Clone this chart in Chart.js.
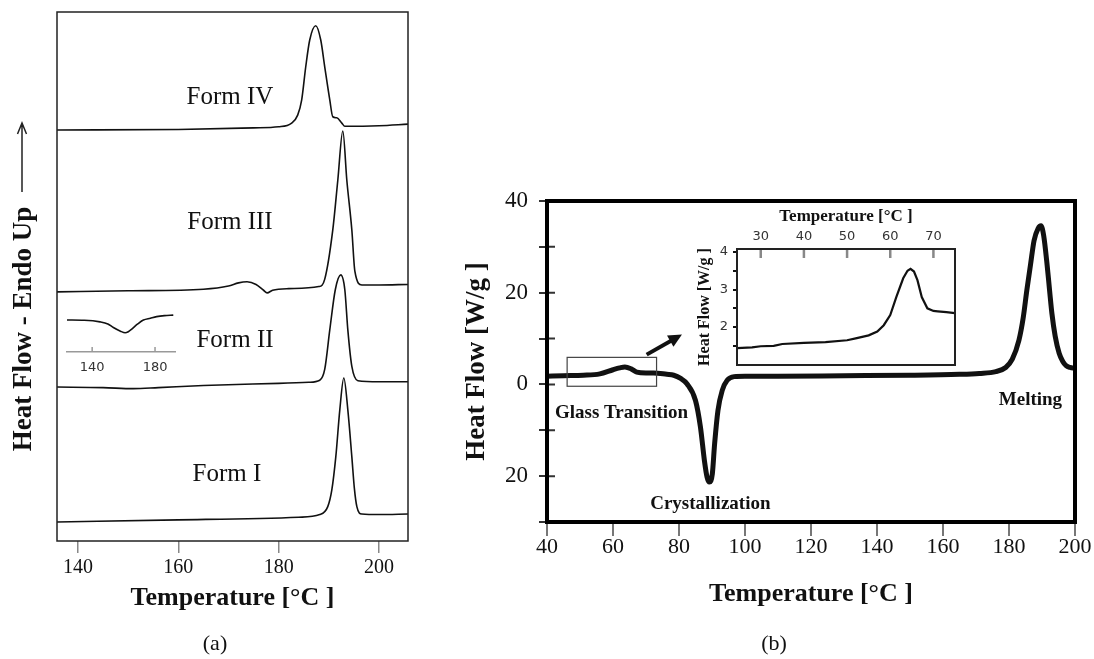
<!DOCTYPE html>
<html>
<head>
<meta charset="utf-8">
<script src="https://cdn.jsdelivr.net/npm/chart.js@4.4.1/dist/chart.umd.min.js"></script>
<style>
  html, body { margin: 0; padding: 0; background: #fff; }
  #wrap { position: relative; width: 1094px; height: 659px; overflow: hidden; }
  #wrap canvas { position: absolute; left: 0; top: 0; }
  .cap { position: absolute; font: 22px "Liberation Serif", serif; color: #111; transform: translate(-50%, -50%); }
</style>
</head>
<body>
<div id="wrap">
  <canvas id="formsChart" width="1094" height="659"></canvas>
  <canvas id="formsInset" width="1094" height="659"></canvas>
  <canvas id="dscChart" width="1094" height="659"></canvas>
  <canvas id="dscInset" width="1094" height="659"></canvas>
  <div class="cap" style="left:215px; top:643px">(a)</div>
  <div class="cap" style="left:774px; top:643px">(b)</div>
</div>
<script>
// ---- panel (a): stacked DSC traces of the four forms (arbitrary offset units)
const tempTicksA = [140, 160, 180, 200];

const formITemp = [135.8, 160, 184, 188.2, 189.8, 190.6, 191.4, 192.2, 193.0, 193.8, 194.6, 195.1, 195.6, 196.6, 200, 205.8];
const formIFlow = [3.6, 4.0, 4.5, 5.0, 6.5, 9.6, 15.9, 24.8, 30.8, 24.8, 15.9, 10.0, 6.5, 5.1, 5.0, 5.1];

const formIITemp = [135.8, 145, 151, 156, 165, 180, 186, 188.2, 189.2, 190.2, 191.3, 192.4, 193.2, 193.8, 194.6, 195.8, 200, 205.8];
const formIIFlow = [29.1, 29.0, 28.8, 29.0, 29.4, 29.8, 30.0, 30.4, 32.5, 39.9, 47.5, 50.3, 47.5, 39.9, 33.0, 30.3, 30.1, 30.1];

const formIIITemp = [135.8, 150, 165, 170, 172, 173.7, 175.5, 177, 177.7, 178.8, 182, 188, 189.2, 190.8, 191.8, 192.8, 193.6, 194.6, 195.2, 196.6, 200, 205.8];
const formIIIFlow = [47.1, 47.3, 47.6, 48.2, 48.8, 49.0, 48.5, 47.4, 46.9, 47.4, 47.7, 48.1, 49.5, 58.8, 68.2, 77.5, 68.2, 58.8, 51.0, 48.4, 48.4, 48.5];

const formIVTemp = [135.8, 160, 175, 180, 182.6, 183.8, 184.6, 185.4, 186.2, 187.4, 188.4, 189.2, 190.2, 190.8, 191.6, 192.6, 193.2, 200, 205.8];
const formIVFlow = [77.7, 77.8, 78.1, 78.3, 79.0, 80.5, 83.4, 89.6, 94.7, 97.4, 94.7, 89.6, 83.4, 80.2, 80.0, 79.0, 78.4, 78.5, 78.8];

const formNames = ['Form I', 'Form II', 'Form III', 'Form IV'];
const formLabelT = [169.7, 171.3, 170.3, 170.3];
const formLabelV = [12.5, 38.0, 60.3, 83.9];

// small inset under Form III (Form II dip)
const insetATicks = [140, 180];
const insetATemp = [124, 135, 145, 150, 153.5, 158, 161, 163, 165.2, 169, 172.6, 177, 181, 186, 191.6];
const insetAFlow = [6.15, 6.1, 5.8, 5.4, 4.7, 4.0, 3.7, 3.9, 4.4, 5.4, 6.15, 6.5, 6.8, 7.0, 7.1];

// ---- panel (b): DSC heating scan
const tempTicksB = [40, 60, 80, 100, 120, 140, 160, 180, 200];
const flowTicksB = [-30, -20, -10, 0, 10, 20, 30, 40];
const dscTemp = [40, 45, 51, 56, 60, 62, 63.6, 65.5, 67.2, 70, 72.3, 76.3, 78.4, 80.5, 82.4, 85.0, 86.5, 87.7, 88.5, 89.2, 90.1, 90.8, 91.8, 93.1, 94.6, 96.7, 100, 110, 130, 150, 165, 171, 176, 179, 181, 183, 184.3, 185.4, 186.5, 187.6, 188.8, 189.7, 190.5, 191.5, 192.3, 193, 194, 195.2, 196.3, 197.3, 198.5, 200];
const dscFlow = [1.8, 1.9, 2.0, 2.3, 3.2, 3.6, 3.8, 3.4, 2.7, 2.5, 2.5, 2.2, 2.0, 1.3, 0.15, -3.5, -9.3, -16.6, -20.2, -21.3, -19.5, -12.9, -5.7, -1.3, 0.9, 1.7, 1.8, 1.8, 1.9, 2.0, 2.2, 2.4, 2.8, 3.7, 5.5, 9.6, 14.5, 20.5, 26, 31.4, 34.0, 34.6, 32.5, 26.4, 20.5, 15.5, 10.5, 6.8, 5.0, 4.1, 3.7, 3.5];

const eventNames = ['Glass Transition', 'Crystallization', 'Melting'];
const eventT = [62.6, 89.5, 186.5];
const eventV = [-6.3, -26.1, -3.5];
const glassBox = [46.1, 73.2, -0.4, 5.9];     // tmin, tmax, vmin, vmax
const zoomArrow = [70.2, 6.5, 80.9, 10.9];    // from t,v to t,v

// inset of (b): glass transition zoom
const insetBTempTicks = [30, 40, 50, 60, 70];
const insetBFlowTicks = [1.5, 2, 2.5, 3, 3.5, 4];
const insetBTemp = [24.5, 28, 30, 33, 35, 40, 45, 50, 52, 55, 57, 58.5, 60, 61.4, 63, 64, 64.7, 65.5, 66.3, 67.3, 68.6, 70, 71, 73, 75];
const insetBFlow = [1.44, 1.46, 1.49, 1.50, 1.55, 1.58, 1.60, 1.65, 1.70, 1.78, 1.88, 2.05, 2.32, 2.8, 3.3, 3.5, 3.55, 3.48, 3.25, 2.8, 2.5, 2.43, 2.42, 2.40, 2.37];

const SERIF = '"Liberation Serif", "Times New Roman", serif';
const SANS = '"DejaVu Sans", sans-serif';

Chart.defaults.animation = false;
Chart.defaults.events = [];
Chart.defaults.plugins.legend.display = false;
Chart.defaults.plugins.tooltip.enabled = false;

function curve(temps, flows, width) {
  return {
    data: temps.map((t, i) => ({ x: t, y: flows[i] })),
    borderColor: '#111',
    borderWidth: width,
    pointRadius: 0,
    cubicInterpolationMode: 'monotone',
    fill: false
  };
}
function fixTicks(list) {
  return scale => { scale.ticks = list.map(v => ({ value: v })); };
}

// panel (a) decorations: frame, form labels, y title with arrow
const formsDeco = {
  id: 'formsDeco',
  afterDatasetsDraw(chart) {
    const { ctx, chartArea: a, scales: { x, y } } = chart;
    ctx.save();
    ctx.strokeStyle = '#222';
    ctx.lineWidth = 1.5;
    ctx.strokeRect(a.left, a.top, a.right - a.left, a.bottom - a.top);
    ctx.fillStyle = '#111';
    ctx.font = '25px ' + SERIF;
    ctx.textAlign = 'center';
    ctx.textBaseline = 'middle';
    formNames.forEach((n, i) => ctx.fillText(n, x.getPixelForValue(formLabelT[i]), y.getPixelForValue(formLabelV[i])));
    // arrow pointing up
    ctx.lineWidth = 1.5;
    ctx.beginPath();
    ctx.moveTo(22, 192); ctx.lineTo(22, 124);
    ctx.moveTo(17.5, 134); ctx.lineTo(22, 123); ctx.lineTo(26.5, 134);
    ctx.stroke();
    ctx.translate(24, 329);
    ctx.rotate(-Math.PI / 2);
    ctx.font = 'bold 27px ' + SERIF;
    ctx.fillText('Heat Flow - Endo Up', 0, 0);
    ctx.restore();
  }
};

new Chart(document.getElementById('formsChart'), {
  type: 'line',
  data: { datasets: [
    curve(formITemp, formIFlow, 1.6),
    curve(formIITemp, formIIFlow, 1.6),
    curve(formIIITemp, formIIIFlow, 1.6),
    curve(formIVTemp, formIVFlow, 1.6)
  ] },
  options: {
    responsive: false,
    layout: { padding: { left: 57, right: 686, top: 12, bottom: 0 } },
    scales: {
      x: {
        type: 'linear', min: 135.8, max: 205.8,
        afterBuildTicks: fixTicks(tempTicksA),
        afterFit: s => { s.height = 118; },
        grid: { drawOnChartArea: false, tickLength: 12, color: '#888', lineWidth: 1.5 },
        border: { display: false },
        ticks: { autoSkip: false, maxRotation: 0, padding: 3, color: '#111', font: { family: SERIF, size: 20 } },
        title: { display: true, text: 'Temperature [°C ]', color: '#111', font: { family: SERIF, size: 26, weight: 'bold' }, padding: { top: 0, bottom: 45 } }
      },
      y: { type: 'linear', min: 0, max: 100, display: false }
    }
  },
  plugins: [formsDeco]
});

// inset of (a): upward tick marks
const insetADeco = {
  id: 'insetADeco',
  afterDraw(chart) {
    const { ctx, chartArea: a, scales: { x } } = chart;
    ctx.save();
    ctx.strokeStyle = '#999';
    ctx.lineWidth = 1.5;
    ctx.beginPath();
    insetATicks.forEach(v => { const p = x.getPixelForValue(v); ctx.moveTo(p, a.bottom); ctx.lineTo(p, a.bottom - 5); });
    ctx.stroke();
    ctx.restore();
  }
};

new Chart(document.getElementById('formsInset'), {
  type: 'line',
  data: { datasets: [curve(insetATemp, insetAFlow, 1.6)] },
  options: {
    responsive: false,
    layout: { padding: { left: 67, right: 919, top: 300, bottom: 0 } },
    scales: {
      x: {
        type: 'linear', min: 124, max: 192.7,
        afterBuildTicks: fixTicks(insetATicks),
        afterFit: s => { s.height = 307; },
        grid: { drawOnChartArea: false, drawTicks: false },
        border: { display: true, color: '#999', width: 1.5 },
        ticks: { autoSkip: false, maxRotation: 0, padding: 8, color: '#333', font: { family: SANS, size: 13 } }
      },
      y: { type: 'linear', min: 0, max: 10, display: false }
    }
  },
  plugins: [insetADeco]
});

// panel (b) decorations: heavy frame, inner ticks, event labels, box and arrow
const dscDeco = {
  id: 'dscDeco',
  afterDatasetsDraw(chart) {
    const { ctx, chartArea: a, scales: { x, y } } = chart;
    ctx.save();
    ctx.strokeStyle = '#333';
    ctx.lineWidth = 2;
    ctx.beginPath();
    flowTicksB.forEach(v => { const p = y.getPixelForValue(v); ctx.moveTo(a.left, p); ctx.lineTo(a.left + 8, p); });
    ctx.stroke();

    // glass transition box
    ctx.strokeStyle = '#444';
    ctx.lineWidth = 1.2;
    const bx0 = x.getPixelForValue(glassBox[0]), bx1 = x.getPixelForValue(glassBox[1]);
    const by0 = y.getPixelForValue(glassBox[3]), by1 = y.getPixelForValue(glassBox[2]);
    ctx.strokeRect(bx0, by0, bx1 - bx0, by1 - by0);

    // arrow to inset
    const ax0 = x.getPixelForValue(zoomArrow[0]), ay0 = y.getPixelForValue(zoomArrow[1]);
    const ax1 = x.getPixelForValue(zoomArrow[2]), ay1 = y.getPixelForValue(zoomArrow[3]);
    const ang = Math.atan2(ay1 - ay0, ax1 - ax0);
    ctx.strokeStyle = '#111';
    ctx.fillStyle = '#111';
    ctx.lineWidth = 4;
    ctx.beginPath();
    ctx.moveTo(ax0, ay0);
    ctx.lineTo(ax1 - 9 * Math.cos(ang), ay1 - 9 * Math.sin(ang));
    ctx.stroke();
    ctx.beginPath();
    ctx.moveTo(ax1, ay1);
    ctx.lineTo(ax1 - 15 * Math.cos(ang - 0.45), ay1 - 15 * Math.sin(ang - 0.45));
    ctx.lineTo(ax1 - 15 * Math.cos(ang + 0.45), ay1 - 15 * Math.sin(ang + 0.45));
    ctx.closePath();
    ctx.fill();

    ctx.font = 'bold 19px ' + SERIF;
    ctx.textAlign = 'center';
    ctx.textBaseline = 'middle';
    eventNames.forEach((n, i) => ctx.fillText(n, x.getPixelForValue(eventT[i]), y.getPixelForValue(eventV[i])));

    ctx.strokeStyle = '#000';
    ctx.lineWidth = 4;
    ctx.strokeRect(a.left, a.top, a.right - a.left, a.bottom - a.top);
    ctx.restore();
  }
};

new Chart(document.getElementById('dscChart'), {
  type: 'line',
  data: { datasets: [curve(dscTemp, dscFlow, 5)] },
  options: {
    responsive: false,
    layout: { padding: { left: 440, right: 19, top: 201, bottom: 0 } },
    scales: {
      x: {
        type: 'linear', min: 40, max: 200,
        afterBuildTicks: fixTicks(tempTicksB),
        afterFit: s => { s.height = 137; },
        grid: { drawOnChartArea: false, tickLength: 14, color: '#777', lineWidth: 2 },
        border: { display: false },
        ticks: { autoSkip: false, maxRotation: 0, padding: 0, color: '#111', font: { family: SERIF, size: 22, lineHeight: 1 } },
        title: { display: true, text: 'Temperature [°C ]', color: '#111', font: { family: SERIF, size: 26, weight: 'bold' }, padding: { top: 0, bottom: 49 } }
      },
      y: {
        type: 'linear', min: -30, max: 40,
        afterBuildTicks: fixTicks(flowTicksB),
        afterFit: s => { s.width = 107; },
        grid: { drawOnChartArea: false, tickLength: 8, color: '#333', lineWidth: 2 },
        border: { display: false },
        ticks: {
          autoSkip: false, padding: 11, color: '#111', font: { family: SERIF, size: 23 },
          callback: v => (v % 20 === 0 ? String(Math.abs(v)) : '')
        },
        title: { display: true, text: 'Heat Flow [W/g ]', color: '#111', font: { family: SERIF, size: 27, weight: 'bold' }, padding: { top: 21, bottom: 0 } }
      }
    }
  },
  plugins: [dscDeco]
});

// inset of (b): frame and inner top ticks
const insetBDeco = {
  id: 'insetBDeco',
  afterDatasetsDraw(chart) {
    const { ctx, chartArea: a, scales: { x } } = chart;
    ctx.save();
    ctx.strokeStyle = '#888';
    ctx.lineWidth = 2.5;
    ctx.beginPath();
    insetBTempTicks.forEach(v => { const p = x.getPixelForValue(v); ctx.moveTo(p, a.top); ctx.lineTo(p, a.top + 9); });
    ctx.stroke();
    ctx.strokeStyle = '#222';
    ctx.lineWidth = 2;
    ctx.strokeRect(a.left, a.top, a.right - a.left, a.bottom - a.top);
    ctx.restore();
  }
};

new Chart(document.getElementById('dscInset'), {
  type: 'line',
  data: { datasets: [Object.assign(curve(insetBTemp, insetBFlow, 2.2), { cubicInterpolationMode: 'default', tension: 0 })] },
  options: {
    responsive: false,
    layout: { padding: { left: 690, right: 139, top: 195, bottom: 294 } },
    scales: {
      x: {
        type: 'linear', position: 'top', min: 24.5, max: 75,
        afterBuildTicks: fixTicks(insetBTempTicks),
        afterFit: s => { s.height = 54; },
        grid: { drawOnChartArea: false, drawTicks: false },
        border: { display: false },
        ticks: { autoSkip: false, maxRotation: 0, padding: 5, color: '#333', font: { family: SANS, size: 13 } },
        title: { display: true, text: 'Temperature [°C ]', color: '#111', font: { family: SERIF, size: 17, weight: 'bold' }, padding: { top: 11, bottom: 0 } }
      },
      y: {
        type: 'linear', min: 0.99, max: 4.08,
        afterBuildTicks: fixTicks(insetBFlowTicks),
        afterFit: s => { s.width = 47; },
        grid: { drawOnChartArea: false, tickLength: 4, color: '#111', lineWidth: 2 },
        border: { display: false },
        ticks: {
          autoSkip: false, padding: 5, color: '#333', font: { family: SANS, size: 13 },
          callback: v => (Number.isInteger(v) ? String(v) : '')
        },
        title: { display: true, text: 'Heat Flow [W/g ]', color: '#111', font: { family: SERIF, size: 16, weight: 'bold' }, padding: { top: 5, bottom: 0 } }
      }
    }
  },
  plugins: [insetBDeco]
});
</script>
</body>
</html>
